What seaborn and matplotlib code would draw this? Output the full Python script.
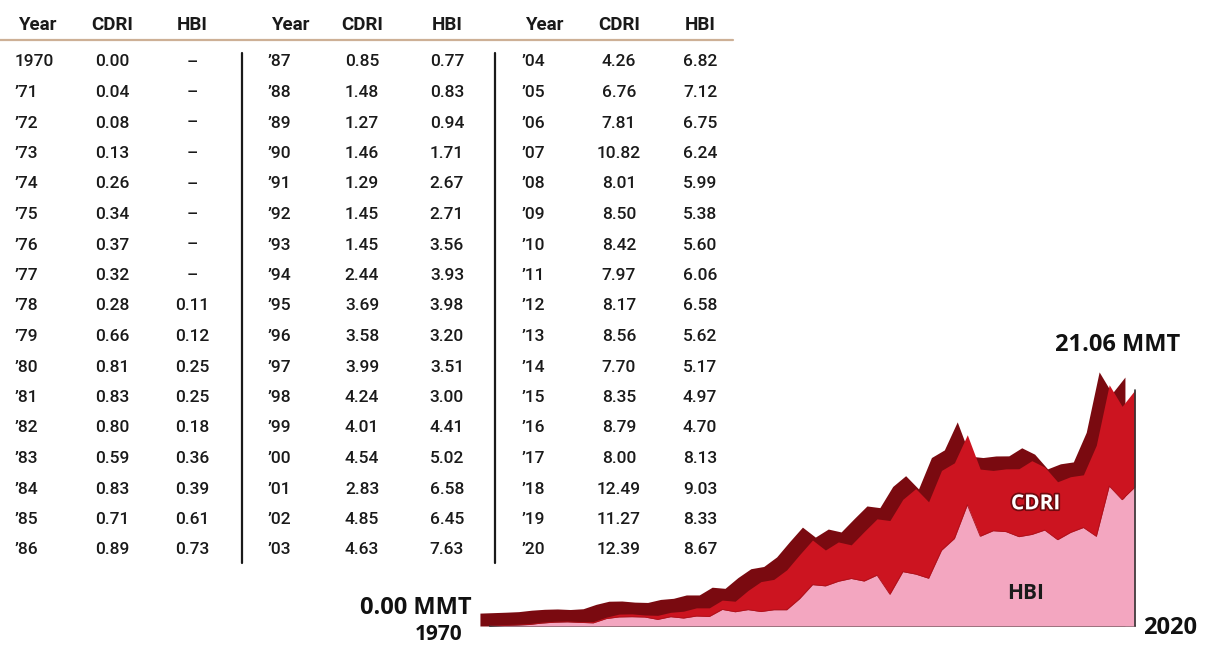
import numpy as np
import matplotlib
matplotlib.use("Agg")
import matplotlib.pyplot as plt
from matplotlib.lines import Line2D
import matplotlib.patheffects as pe
import seaborn as sns

# --
# Data

years = list(range(1970, 2021))
cdri = [0.00, 0.04, 0.08, 0.13, 0.26, 0.34, 0.37, 0.32, 0.28, 0.66, 0.81, 0.83, 0.80, 0.59, 0.83, 0.71, 0.89,
        0.85, 1.48, 1.27, 1.46, 1.29, 1.45, 1.45, 2.44, 3.69, 3.58, 3.99, 4.24, 4.01, 4.54, 2.83, 4.85, 4.63,
        4.26, 6.76, 7.81, 10.82, 8.01, 8.50, 8.42, 7.97, 8.17, 8.56, 7.70, 8.35, 8.79, 8.00, 12.49, 11.27, 12.39]
hbi = [None] * 8 + [0.11, 0.12, 0.25, 0.25, 0.18, 0.36, 0.39, 0.61, 0.73,
       0.77, 0.83, 0.94, 1.71, 2.67, 2.71, 3.56, 3.93, 3.98, 3.20, 3.51, 3.00, 4.41, 5.02, 6.58, 6.45, 7.63,
       6.82, 7.12, 6.75, 6.24, 5.99, 5.38, 5.60, 6.06, 6.58, 5.62, 5.17, 4.97, 4.70, 8.13, 9.03, 8.33, 8.67]
headers = ["Year", "CDRI", "HBI"]

# --
# Style

sns.set_theme(style="white")
plt.rcParams['font.family'] = ['Roboto', 'DejaVu Sans']
bold_font = ["Open Sans", "DejaVu Sans"]

W, H = 1211, 645
fig = plt.figure(figsize=(W / 100, H / 100), dpi=100)
fig.patch.set_facecolor("white")

def px(x, y):
    return x / W, 1 - y / H

# --
# Table

groups = [(15, 112, 192), (268, 362, 447), (522, 619, 700)]
row0, step = 62, 30.5
for g, (xy_, xc, xh) in enumerate(groups):
    hx = [xy_ + 22, xc, xh]
    for k, h in enumerate(headers):
        fig.text(*px(hx[k], 25), h, ha="center", va="center", fontsize=13.5,
                 fontweight="bold", color="#1a1a1a")
    for i in range(17):
        idx = g * 17 + i
        yr = years[idx]
        ylab = str(yr) if yr == 1970 else "\u2019" + str(yr)[2:]
        hv = hbi[idx]
        y = row0 + i * step
        fig.text(*px(xy_, y), ylab, ha="left", va="center", fontsize=12.5,
                 fontweight="medium", color="#1a1a1a")
        fig.text(*px(xc, y), "%.2f" % cdri[idx], ha="center", va="center", fontsize=12.5,
                 fontweight="medium", color="#1a1a1a")
        fig.text(*px(xh, y), "\u2013" if hv is None else "%.2f" % hv, ha="center", va="center",
                 fontsize=12.5, fontweight="medium", color="#1a1a1a")

fig.add_artist(Line2D([0, 733 / W], [1 - 40 / H] * 2, color="#CDB096", lw=1.6))
for xv in (242, 495):
    fig.add_artist(Line2D([xv / W] * 2, [1 - 53 / H, 1 - 563 / H], color="#1a1a1a", lw=1.6))

# --
# Stacked area chart

bottom = np.array(cdri)
top = np.array([0 if v is None else v for v in hbi])
total = bottom + top
yrs = np.array(years)

ax = fig.add_axes([490 / W, 19 / H, 645 / W, 269 / H])
ax.set_xlim(1970, 2020)
ax.set_ylim(0, 24)

# dark red "extrusion" behind the surface
ax.fill_between(yrs - 0.78, total + 1.15, 0, color="#7A0A10", lw=0, clip_on=False, zorder=1)
ax.fill_between(yrs, total, bottom, color="#CC1420", lw=0, zorder=2)
ax.fill_between(yrs, bottom, 0, color="#F3A6C0", lw=0, zorder=3)
sns.lineplot(x=yrs, y=bottom, ax=ax, color="#B0101A", lw=0.6, zorder=4)
ax.plot([yrs[-1], yrs[-1]], [0, total[-1]], color="#333333", lw=1.2, zorder=5, clip_on=False)

ax.set_xticks([])
ax.set_yticks([])
ax.grid(False)
ax.patch.set_alpha(0)
for s in ("top", "left", "right"):
    ax.spines[s].set_visible(False)
ax.spines["bottom"].set_color("#333333")
ax.spines["bottom"].set_linewidth(1.2)

ax.text(2012.3, 10.9, "CDRI", ha="center", va="center", fontsize=15, fontweight="bold",
        color="white", family=bold_font,
        path_effects=[pe.withStroke(linewidth=2.5, foreground="#6E0A0E")])
ax.text(2011.5, 2.9, "HBI", ha="center", va="center", fontsize=15, fontweight="bold",
        color="#1a1a1a", family=bold_font)

# --
# Chart annotations

fig.text(*px(416, 608), "0.00 MMT", ha="center", va="center", fontsize=17, fontweight="bold",
         color="#111111", family=bold_font)
fig.text(*px(439, 634), "1970", ha="center", va="center", fontsize=15, fontweight="bold",
         color="#111111", family=bold_font)
fig.text(*px(1170, 628), "2020", ha="center", va="center", fontsize=17, fontweight="bold",
         color="#111111", family=bold_font)
fig.text(*px(1118, 345), "21.06 MMT", ha="center", va="center", fontsize=17, fontweight="bold",
         color="#111111", family=bold_font)

fig.savefig("out.png", dpi=100, facecolor="white")
